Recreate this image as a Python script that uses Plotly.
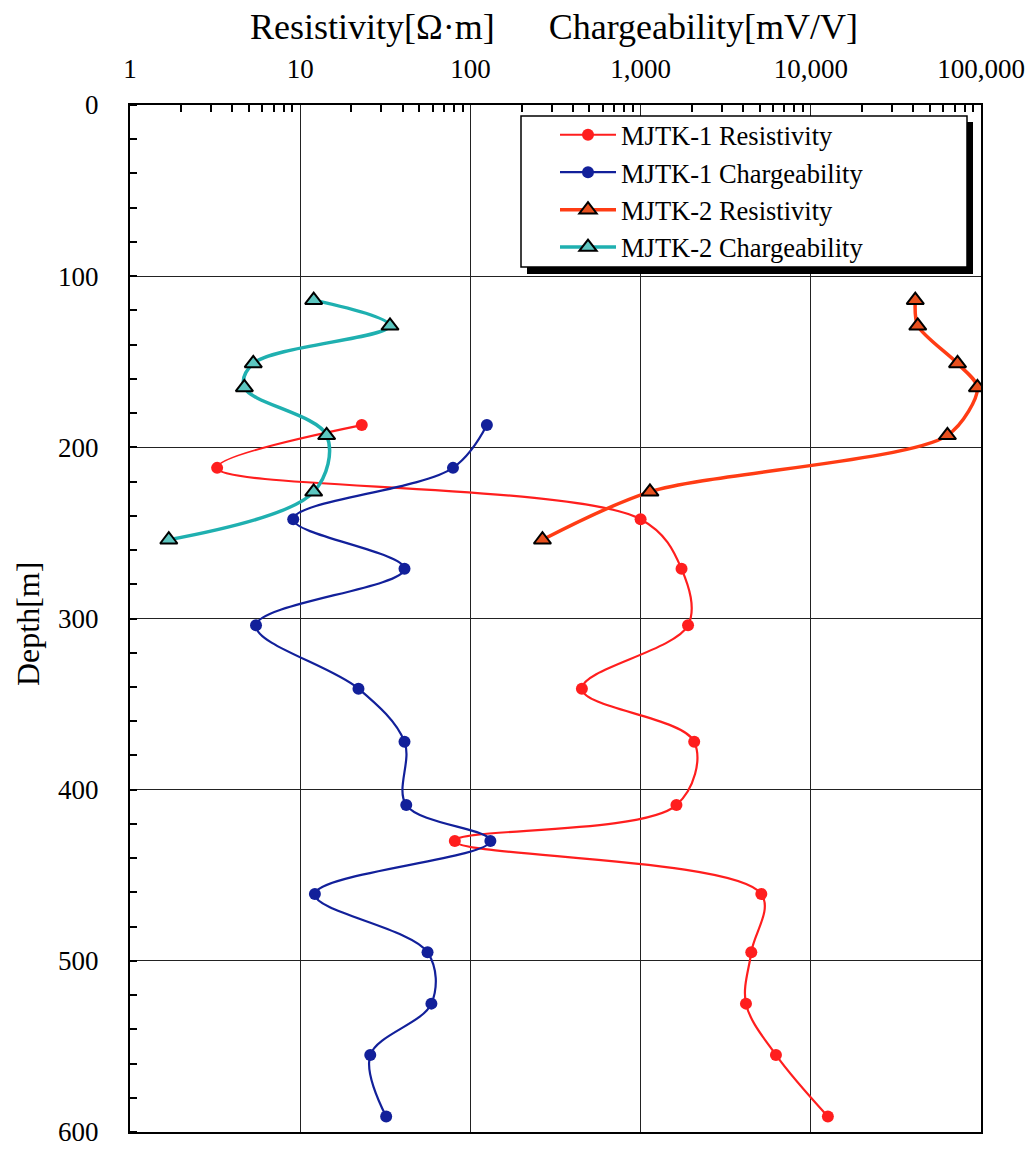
import plotly.graph_objects as go

# ---- data ----
depth_mjtk1 = [187, 212, 242, 271, 304, 341, 372, 409, 430, 461, 495, 525, 555, 591]
res_mjtk1 = [23, 3.25, 1000, 1740, 1900, 452, 2065, 1624, 81, 5120, 4470, 4160, 6240, 12600]
chg_mjtk1 = [125, 79, 9.1, 41, 5.5, 22, 41, 42, 131, 12.2, 56, 59, 25.8, 32]

depth_mjtk2 = [114, 129, 151, 165, 193, 226, 254]
res_mjtk2 = [41100, 42500, 72800, 95300, 63500, 1135, 265]
chg_mjtk2 = [12.0, 33.7, 5.3, 4.7, 14.3, 12.0, 1.69]

x_tickvals = [1, 10, 100, 1000, 10000, 100000]
x_ticktext = ["1", "10", "100", "1,000", "10,000", "100,000"]
x_minor = [m * 10 ** k for k in range(5) for m in range(2, 10)]
y_tickvals = [0, 100, 200, 300, 400, 500, 600]

names = ["MJTK-1 Resistivity", "MJTK-1 Chargeability",
         "MJTK-2 Resistivity", "MJTK-2 Chargeability"]

FONT = "Liberation Serif"
W, H = 1030, 1150
L, R, T, B = 130, 981, 105, 1132


def px(x):
    return (x - L) / (R - L)


def py(y):
    return (B - y) / (B - T)


fig = go.Figure()

fig.add_trace(go.Scatter(
    x=res_mjtk1, y=depth_mjtk1, name=names[0], mode="lines+markers",
    line=dict(color="#ff1e1e", width=2.2, shape="spline", smoothing=1),
    marker=dict(symbol="circle", size=12, color="#ff1e1e")))
fig.add_trace(go.Scatter(
    x=chg_mjtk1, y=depth_mjtk1, name=names[1], mode="lines+markers",
    line=dict(color="#12209a", width=2.2, shape="spline", smoothing=1),
    marker=dict(symbol="circle", size=12, color="#12209a")))
fig.add_trace(go.Scatter(
    x=res_mjtk2, y=depth_mjtk2, name=names[2], mode="lines+markers",
    line=dict(color="#ff3c14", width=3.5, shape="spline", smoothing=0.8),
    marker=dict(symbol="triangle-up", size=15, color="#e8501e",
                line=dict(color="black", width=2))))
fig.add_trace(go.Scatter(
    x=chg_mjtk2, y=depth_mjtk2, name=names[3], mode="lines+markers",
    line=dict(color="#1fb0b0", width=3.5, shape="spline", smoothing=1),
    marker=dict(symbol="triangle-up", size=15, color="#5cc6c0",
                line=dict(color="black", width=2))))

fig.update_xaxes(
    type="log", range=[0, 5], side="top", automargin=False,
    tickvals=x_tickvals, ticktext=x_ticktext, ticks="",
    ticklabelstandoff=14,
    tickfont=dict(family=FONT, size=27, color="black"),
    showgrid=True, gridcolor="#222222", gridwidth=1.3,
    showline=True, linecolor="black", linewidth=2, mirror=True,
    zeroline=False,
    minor=dict(tickvals=x_minor, ticks="inside", ticklen=7,
               tickcolor="black", tickwidth=1.5, showgrid=False),
)
fig.update_yaxes(
    range=[600, 0], tickvals=y_tickvals, ticks="", automargin=False,
    ticklabelstandoff=24,
    tickfont=dict(family=FONT, size=27, color="black"),
    showgrid=True, gridcolor="#222222", gridwidth=1.3,
    showline=True, linecolor="black", linewidth=2, mirror=True,
    zeroline=False,
    minor=dict(dtick=20, ticks="inside", ticklen=7,
               tickcolor="black", tickwidth=1.5, showgrid=False),
)

# legend frame with drop shadow
fig.add_shape(type="rect", xref="paper", yref="paper",
              x0=px(527), x1=px(973), y0=py(274), y1=py(122),
              fillcolor="black", line=dict(width=0), layer="above")
fig.add_shape(type="rect", xref="paper", yref="paper",
              x0=px(521), x1=px(967), y0=py(267), y1=py(116),
              fillcolor="white", line=dict(color="black", width=1.5), layer="above")

fig.add_annotation(
    text="Resistivity[Ω·m]&nbsp;&nbsp;&nbsp;&nbsp;&nbsp;&nbsp;Chargeability[mV/V]",
    xref="paper", yref="paper", x=px(554), y=py(27),
    xanchor="center", yanchor="middle", showarrow=False,
    font=dict(family=FONT, size=36, color="black"))
fig.add_annotation(
    text="Depth[m]", textangle=-90,
    xref="paper", yref="paper", x=px(28), y=py(624),
    xanchor="center", yanchor="middle", showarrow=False,
    font=dict(family=FONT, size=32, color="black"))

fig.update_layout(
    width=W, height=H,
    margin=dict(l=L, r=W - R, t=T, b=H - B),
    paper_bgcolor="white", plot_bgcolor="white",
    showlegend=True,
    legend=dict(x=px(555), y=py(111), xanchor="left", yanchor="top",
                bgcolor="rgba(0,0,0,0)", borderwidth=0,
                itemwidth=56, tracegroupgap=0,
                font=dict(family=FONT, size=26.5, color="black")),
)

fig.write_html(
    "out.html",
    config={"displayModeBar": False},
    post_script="document.body.style.margin='0';document.body.style.overflow='hidden';",
)
